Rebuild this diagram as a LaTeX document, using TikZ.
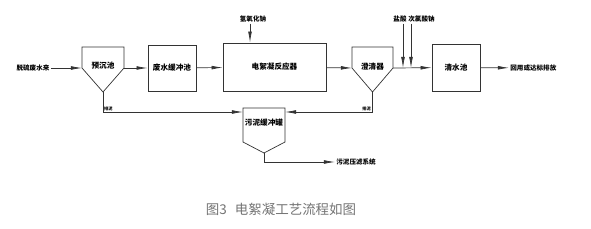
\documentclass[tikz,border=0pt]{standalone}
\usepackage{fontspec}
\setmainfont{Noto Sans CJK SC}
\usetikzlibrary{arrows.meta,positioning,calc}

\tikzset{
  unit/.style={draw=black!80, line width=0.6pt, inner sep=0pt,
    font=\fontsize{6.5}{7}\selectfont\bfseries},
  boxtxt/.style={inner sep=0pt, font=\fontsize{6.5}{7}\selectfont\bfseries},
  lbl/.style={inner sep=1pt, font=\fontsize{5.6}{6}\selectfont\bfseries},
  tiny/.style={inner sep=0pt, font=\fontsize{3.6}{4}\selectfont\bfseries},
  flow/.style={draw=black!80, line width=0.6pt,
    -{Latex[length=9.5pt,width=3.2pt]}},
  outline/.style={draw=black!80, line width=0.6pt},
}

\begin{document}
\begin{tikzpicture}[x=0.03cm, y=-0.03cm]
  \useasboundingbox (0,0) rectangle (591,229);

  % --- 预沉池 ---
  \draw[outline] (82,47) -- (124,47) -- (124,68) -- (103,92) -- (82,68) -- cycle;
  \node[boxtxt] (yc) at (103,66) {预沉池};
  \coordinate (yc-w) at (82,68);
  \coordinate (yc-e) at (124,68);
  \coordinate (yc-b) at (103,92);

  % --- 废水缓冲池 / 电絮凝反应器 ---
  \node[unit, minimum width=1.44cm, minimum height=1.38cm] (hc) at (172,68) {废水缓冲池};
  \node[unit, minimum width=3.09cm, minimum height=1.44cm] (dx) at (274.5,67) {电絮凝反应器};

  % --- 澄清器 ---
  \draw[outline] (352,47) -- (393,47) -- (393,68) -- (372.5,92) -- (352,68) -- cycle;
  \node[boxtxt] (cq) at (372.5,67) {澄清器};
  \coordinate (cq-w) at (352,68);
  \coordinate (cq-e) at (393,68);
  \coordinate (cq-b) at (372.5,92);

  % --- 清水池 ---
  \node[unit, minimum width=1.44cm, minimum height=1.41cm] (qs) at (456,67.5) {清水池};

  % --- 污泥缓冲罐 ---
  \draw[outline] (243,108) -- (285,108) -- (285,142) -- (264,153) -- (243,142) -- cycle;
  \node[boxtxt] (wn) at (264,123) {污泥缓冲罐};
  \coordinate (wn-w) at (243,112);
  \coordinate (wn-e) at (285,112);
  \coordinate (wn-b) at (264,153);

  % --- ingressi / uscite ---
  \node[lbl] (src) at (33,68) {脱硫废水来};
  \node[lbl] (naoh) at (253,19) {氢氧化钠};
  \node[lbl] (hcl) at (400,19) {盐酸};
  \node[lbl, anchor=west] (naclo) at (407,19) {次氯酸钠};
  \node[lbl, anchor=west] (out) at (509,68) {回用或达标排放};
  \node[lbl, anchor=west] (press) at (335,162) {污泥压滤系统};
  \coordinate (hcl-in) at (403,68);
  \coordinate (naclo-in) at (411,68);

  % --- linea principale ---
  \draw[flow] (src) -- (yc-w);
  \draw[flow] (yc-e) -- (hc);
  \draw[flow] (hc) -- (dx);
  \draw[flow] (dx) -- (cq-w);
  \draw[flow] (cq-e) -- (qs);
  \draw[flow] (qs) -- (out);

  % --- dosaggi ---
  \draw[flow] (naoh.south -| 250,0) -- (250,0 |- dx.north);
  \draw[flow] (hcl-in |- hcl.south) -- (hcl-in);
  \draw[flow] (naclo-in |- naclo.south) -- (naclo-in);

  % --- fanghi ---
  \draw[flow] (yc-b) |- (wn-w);
  \draw[flow] (cq-b) |- (wn-e);
  \node[tiny, anchor=south west] (pn1) at (104,111) {排泥};
  \node[tiny, anchor=south east] (pn2) at (371,111) {排泥};
  \draw[flow] (wn-b) |- (press);

  % --- didascalia ---
  \node[font=\fontsize{11.5}{12}\selectfont, text=black!55] (cap) at (281,209) {图3\hspace{0.6em}电絮凝工艺流程如图};
\end{tikzpicture}
\end{document}
